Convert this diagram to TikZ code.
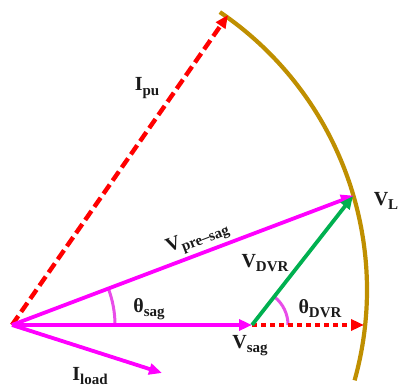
\documentclass[tikz,border=0pt]{standalone}
\usepackage{fontspec}
\setmainfont{Liberation Serif}
\usepackage{xcolor}
\definecolor{phmag}{HTML}{FF00FF}
\definecolor{angmag}{HTML}{E84DE8}
\definecolor{dvrgreen}{HTML}{00B050}
\definecolor{pured}{HTML}{FF0000}
\definecolor{locus}{HTML}{BF8F00}
\definecolor{ink}{HTML}{1A1A1A}
\usepackage{tikz}
\usetikzlibrary{arrows.meta}
% bold label with lowered subscript
\newcommand{\phs}[2]{\textbf{#1}\raisebox{-0.45ex}{\fontsize{15}{15}\selectfont\bfseries #2}}

\begin{document}
\begin{tikzpicture}[
  x=1pt,y=1pt,
  font=\fontsize{20}{20}\selectfont\bfseries,
  tip/.style={-{Triangle[length=13pt,width=11pt]}},
  phasor/.style={tip,phmag,line width=3.8pt},
  inj/.style={tip,dvrgreen,line width=3.8pt},
  puline/.style={tip,pured,line width=4.4pt,dash pattern=on 11pt off 5pt},
  dvrref/.style={tip,pured,line width=4pt,dash pattern=on 5pt off 4pt},
  angarc/.style={angmag,line width=3pt},
  lbl/.style={text=ink,inner sep=1pt},
]
\useasboundingbox (0,0) rectangle (399,390);

% points of the diagram
\coordinate (O)    at (12,65);
\coordinate (sag)  at (252,65);
\coordinate (L)    at (353,194);
\coordinate (dvr)  at (364,65);
\coordinate (pu)   at (228,375);
\coordinate (load) at (162,17);

% voltage locus
\draw[locus,line width=4.2pt] (31,100) ++(55.8:336) arc[start angle=55.8,end angle=-15.6,radius=336];

% angles
\draw[angarc] (O) ++(0:103) arc[start angle=0,end angle=20.6,radius=103];
\draw[angarc] (sag) ++(0:36) arc[start angle=0,end angle=51,radius=36];

% phasors
\draw[puline] (O) -- (pu);
\draw[dvrref] (sag) -- (dvr);
\draw[phasor] (O) -- (sag);
\draw[phasor] (O) -- (load);
\draw[phasor,shorten >=-1pt] (O) -- node[lbl,sloped,pos=0.56,above=2pt] (vpre) {\phs{V}{pre–sag}} (L);
\draw[inj] (sag) -- (L);

% labels
\node[lbl] (ipu)   at (147,302) {\phs{I}{pu}};
\node[lbl] (vdvr)  at (265,127) {\phs{V}{DVR}};
\node[lbl] (tsag)  at (149,81)  {\phs{θ}{sag}};
\node[lbl] (tdvr)  at (320,81)  {\phs{θ}{DVR}};
\node[lbl] (vsag)  at (250,44)  {\phs{V}{sag}};
\node[lbl] (iload) at (90,14)   {\phs{I}{load}};
\node[lbl] (vl)    at (386,189) {\phs{V}{L}};
\end{tikzpicture}
\end{document}
